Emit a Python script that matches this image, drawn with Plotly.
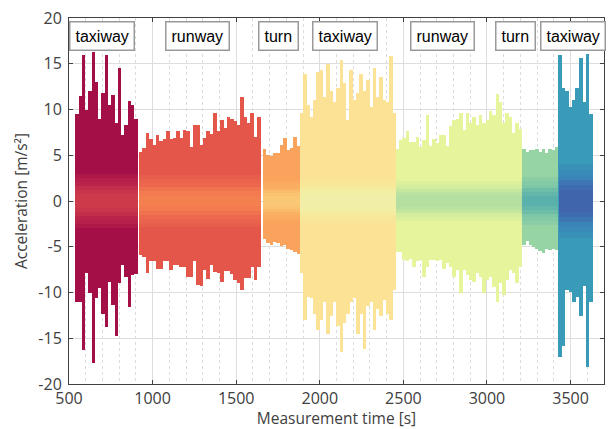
import plotly.graph_objects as go

# ---- taxi test: acceleration envelope per manoeuvre segment ----
seg_names = ["taxiway", "runway", "turn", "taxiway", "runway", "turn", "taxiway"]
seg_start = [538, 919, 1660, 1882, 2455, 3211, 3428]   # s
seg_end = [910, 1646, 1882, 2455, 3211, 3426, 3632]    # s

# upper / lower peaks of the acceleration signal (m/s^2), ~20 s windows
hi_1 = [9.5, 11.5, 16.0, 10.0, 12.0, 16.3, 13.0, 9.0, 11.8, 16.0, 10.5, 11.6,
        8.5, 14.5, 7.2, 8.3, 10.9, 10.5, 9.0]
lo_1 = [-11.0, -11.0, -16.3, -7.9, -10.0, -17.7, -10.6, -9.5, -12.3, -13.8, -8.8,
        -11.4, -14.8, -9.0, -7.0, -8.3, -11.6, -8.1, -8.0]

hi_2 = [5.4, 5.8, 7.4, 6.8, 6.1, 7.2, 6.6, 6.8, 7.6, 6.8, 6.9, 7.6, 6.9, 7.8, 7.7,
        5.9, 8.3, 8.3, 6.1, 6.9, 7.6, 7.3, 9.6, 7.6, 8.85, 8.0, 9.2, 9.0, 8.7, 8.3,
        11.4, 9.2, 8.5, 9.6, 7.0, 9.2]
lo_2 = [-5.9, -6.1, -7.9, -6.6, -6.6, -7.4, -7.4, -6.6, -6.6, -7.5, -7.0, -7.0,
        -7.2, -7.2, -8.3, -8.3, -6.6, -9.2, -9.3, -7.5, -8.5, -7.0, -7.8, -7.9,
        -8.8, -7.7, -7.7, -8.0, -8.6, -9.0, -9.7, -8.4, -8.4, -7.2, -8.6, -7.2]

hi_3 = [5.7, 5.0, 4.9, 5.2, 5.3, 6.1, 6.9, 5.6, 5.8, 7.0, 6.0]
lo_3 = [-4.2, -4.6, -4.8, -4.5, -4.6, -4.9, -4.8, -5.2, -5.3, -5.6, -5.8]

hi_4 = [9.6, 13.9, 10.5, 9.2, 11.0, 14.1, 14.3, 11.4, 15.0, 12.0, 10.8, 12.3, 15.4,
        12.9, 8.9, 14.3, 11.0, 11.8, 13.9, 12.0, 13.2, 10.3, 14.5, 11.4, 13.6, 11.0,
        10.8, 15.8, 9.6]
lo_4 = [-7.9, -13.0, -10.5, -10.6, -12.3, -14.1, -13.0, -11.0, -14.5, -12.6, -11.0,
        -13.7, -16.5, -13.3, -12.3, -11.0, -10.6, -14.5, -12.3, -16.2, -11.5, -11.0,
        -14.1, -11.8, -12.6, -10.8, -12.3, -13.0, -9.7]

hi_5 = [5.7, 6.7, 6.9, 7.6, 6.5, 6.4, 7.0, 5.9, 6.7, 9.4, 6.0, 6.8, 6.3, 7.2, 7.2,
        6.0, 8.2, 8.85, 9.0, 9.6, 7.8, 9.6, 8.5, 9.2, 8.3, 9.4, 8.5, 8.85, 9.8, 9.4,
        11.7, 10.8, 8.5, 9.6, 9.2, 7.4, 8.5, 7.9]
lo_5 = [-5.6, -5.6, -6.4, -6.6, -6.3, -7.2, -6.6, -6.4, -8.3, -7.2, -6.4, -6.4,
        -6.6, -6.4, -7.4, -6.8, -7.2, -8.3, -7.5, -10.1, -7.5, -8.1, -8.6, -8.8,
        -7.9, -8.3, -10.0, -8.6, -8.3, -9.4, -11.0, -9.0, -10.3, -8.6, -7.5, -7.9,
        -9.0, -7.2]

hi_6 = [5.7, 5.4, 5.6, 5.6, 5.7, 5.4, 5.7, 5.2, 5.7, 5.6, 5.9]
lo_6 = [-4.8, -4.4, -4.8, -5.0, -5.2, -5.5, -5.7, -5.2, -5.3, -5.2, -5.3]

hi_7 = [16.0, 12.3, 12.0, 10.3, 11.0, 12.3, 15.6, 10.8, 16.1, 9.5]
lo_7 = [-17.0, -15.9, -9.7, -9.9, -11.0, -10.5, -12.6, -9.3, -18.1, -11.0]

seg_hi = [hi_1, hi_2, hi_3, hi_4, hi_5, hi_6, hi_7]
seg_lo = [lo_1, lo_2, lo_3, lo_4, lo_5, lo_6, lo_7]

# half-width (m/s^2) of the dense low-amplitude core around zero
core_outer = [3.0, 2.8, 2.2, 2.4, 2.2, 2.6, 4.0]
core_inner = [0.8, 0.6, 0.5, 0.8, 0.7, 0.6, 1.2]

# segment label anchors (s)
label_x = [697, 1268, 1756, 2151, 2731, 3168, 3514]

x_ticks = [500, 1000, 1500, 2000, 2500, 3000, 3500]
y_ticks = [-20, -15, -10, -5, 0, 5, 10, 15, 20]
y_tick_text = ["-20", "-15", "-10", "-5", "0", "5", "10", "15", "20"]

# Spectral-like palette: envelope colour, core halo colour, core centre colour
main_col = ["#A50F47", "#E4564A", "#F9A35C", "#FBE294", "#E6F49B", "#97D4A4", "#3A9BB8"]
halo_col = ["#C52E4E", "#EF7050", "#FCB867", "#F6EBA0", "#CBEA9F", "#72C2A7", "#3C7DB8"]
core_col = ["#D8474F", "#F98D52", "#FDD27E", "#EFF4AE", "#A9DBA3", "#4AA8AF", "#4558A8"]

N_LAYERS = 6

fig = go.Figure()

for k in range(len(seg_names)):
    n = len(seg_hi[k])
    w = (seg_end[k] - seg_start[k]) / n
    xc = [seg_start[k] + (i + 0.5) * w for i in range(n)]
    fig.add_trace(go.Bar(
        x=xc, y=[h - l for h, l in zip(seg_hi[k], seg_lo[k])], base=seg_lo[k],
        width=[w * 1.08] * n,
        marker=dict(color=main_col[k], line=dict(width=0)),
        showlegend=False, hoverinfo="skip"))

    # soft core: stacked translucent bands, widest first
    mid = 0.5 * (seg_start[k] + seg_end[k])
    span = seg_end[k] - seg_start[k]
    for j in range(N_LAYERS):
        f = j / (N_LAYERS - 1)
        hw = core_outer[k] + (core_inner[k] - core_outer[k]) * f
        col = halo_col[k] if j < N_LAYERS // 2 else core_col[k]
        fig.add_trace(go.Bar(
            x=[mid], y=[2 * hw], base=[-hw], width=[span],
            marker=dict(color=col, opacity=0.32, line=dict(width=0)),
            showlegend=False, hoverinfo="skip"))

for name, lx in zip(seg_names, label_x):
    fig.add_annotation(
        x=lx, y=18, xref="x", yref="y", text=name, showarrow=False,
        font=dict(family="Liberation Sans, Arial, sans-serif", size=16, color="#000000"),
        bgcolor="#FFFFFF", bordercolor="#9A9A9A", borderwidth=1.5, borderpad=5)

axis_font = dict(family="Open Sans, sans-serif", size=16, color="#404040")
title_font = dict(family="Open Sans, sans-serif", size=15.5, color="#404040")

fig.update_layout(
    width=609, height=429,
    margin=dict(l=69, r=5, t=18, b=45),
    paper_bgcolor="#FFFFFF", plot_bgcolor="#FFFFFF",
    barmode="overlay", bargap=0,
    font=axis_font,
    showlegend=False,
)

fig.update_xaxes(
    range=[500, 3700], tickvals=x_ticks, ticks="inside", ticklen=4,
    tickcolor="#404040", showline=True, linecolor="#404040", linewidth=1,
    mirror="ticks", showgrid=True, gridcolor="#DDDDDD", gridwidth=1,
    zeroline=False, tickfont=axis_font,
    minor=dict(dtick=100, tick0=500, showgrid=True, gridcolor="#DCDCDC",
               griddash="dot", gridwidth=1, ticks=""),
    title=dict(text="Measurement time [s]", font=title_font, standoff=3),
)
fig.update_yaxes(
    range=[-20, 20], tickvals=y_ticks, ticktext=y_tick_text, ticks="inside",
    ticklen=4, tickcolor="#404040", showline=True, linecolor="#404040",
    linewidth=1, mirror="ticks", showgrid=True, gridcolor="#DDDDDD",
    gridwidth=1, zeroline=False, tickfont=axis_font, ticklabelstandoff=3,
    title=dict(text="Acceleration [m/s²]", font=title_font, standoff=6),
)

fig.write_html("out.html")
